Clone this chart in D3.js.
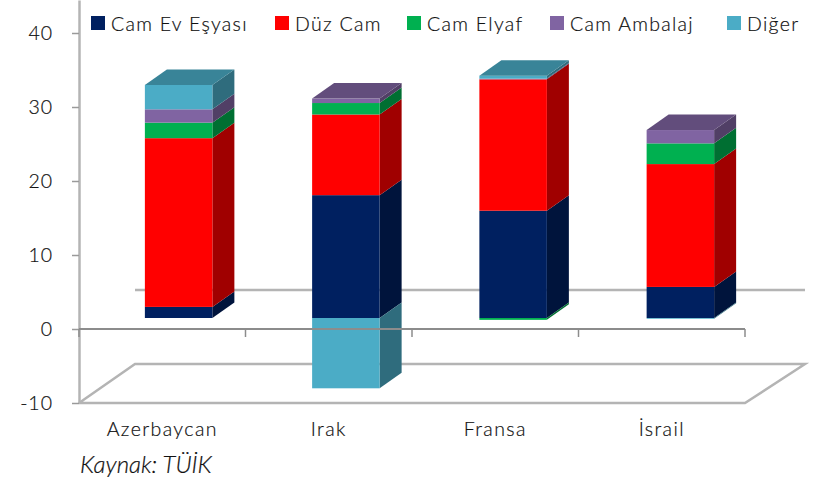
<!DOCTYPE html>
<html>
<head>
<meta charset="utf-8">
<script src="https://cdn.jsdelivr.net/npm/d3@7"></script>
<style>
  html, body { margin: 0; padding: 0; background: #fff; }
  text { font-family: Lato, "Open Sans", sans-serif; font-weight: 300; fill: #111; stroke: #111; stroke-width: 0.2px; }
</style>
</head>
<body>
<div id="vis"></div>
<script>
const countries = ["Azerbaycan", "Irak", "Fransa", "İsrail"];
const seriesNames = ["Cam Ev Eşyası", "Düz Cam", "Cam Elyaf", "Cam Ambalaj", "Diğer"];
const seriesColors = ["#002060", "#ff0000", "#00b050", "#8064a2", "#4bacc6"];
const camEvEsyasi = [1.5, 16.6, 14.5, 4.2];
const duzCam = [22.8, 10.9, 17.75, 16.6];
const camElyaf = [2.1, 1.55, -0.25, 2.8];
const camAmbalaj = [1.8, 0.6, 0.1, 1.8];
const diger = [3.3, -9.5, 0.4, -0.1];
const yTicks = [-10, 0, 10, 20, 30, 40];
const legendX = [91, 275, 407, 550, 727];

const width = 825, height = 477;
const seriesValues = [camEvEsyasi, duzCam, camElyaf, camAmbalaj, diger];
const rows = countries.map((c, i) => {
    const row = { country: c };
    seriesNames.forEach((s, j) => { row[s] = seriesValues[j][i]; });
    return row;
});

const x = d3.scaleBand().domain(countries).range([79, 745]);
// bars sit deeper in the 3D box, so their spacing is a bit wider than the axis ticks
const xBar = d3.scaleBand().domain(countries).range([95, 764]);
const y = d3.scaleLinear().domain([-10, 44.46]).range([403, 0]);

// 3D look: the walls sit behind the axis plane, bars stand half way in
const wallDx = 56, wallDy = -39;
const barOffY = -11;
const barW = 67.5, barDx = 22, barDy = -15.5;

const svg = d3.select("#vis").append("svg")
    .attr("width", width)
    .attr("height", height)
    .style("display", "block");

const gridColor = "#b4b4b4";

// back wall zero line and floor
svg.append("path")
    .attr("d", d3.line()([
        [x.range()[0] + wallDx, y(0) + wallDy],
        [x.range()[1] + wallDx + 4, y(0) + wallDy]
    ]))
    .attr("stroke", gridColor).attr("stroke-width", 2.5).attr("fill", "none");

svg.append("path")
    .attr("d", d3.line()([
        [x.range()[0], y(-10)],
        [x.range()[0] + wallDx, y(-10) + wallDy],
        [x.range()[1] + wallDx + 4, y(-10) + wallDy],
        [x.range()[1], y(-10)],
        [x.range()[0], y(-10)]
    ]))
    .attr("stroke", gridColor).attr("stroke-width", 2.5).attr("fill", "none");

// bars
const stacked = d3.stack()
    .keys(seriesNames)
    .offset(d3.stackOffsetDiverging)(rows);

const barX = name => xBar(name) + (xBar.bandwidth() - barW) / 2;
const barY = v => y(v) + barOffY;

const layers = svg.selectAll("g.layer")
    .data(stacked)
    .enter().append("g")
    .attr("class", "layer");

// sides first so the fronts overlap their edges
layers.selectAll("path.side")
    .data((s, j) => s.map(d => ({ d: d, color: seriesColors[j] })))
    .enter().append("path")
    .attr("class", "side")
    .attr("fill", e => d3.rgb(e.color).darker(1.3))
    .attr("d", e => {
        const x1 = barX(e.d.data.country) + barW;
        return d3.line()([
            [x1, barY(e.d[0])],
            [x1 + barDx, barY(e.d[0]) + barDy],
            [x1 + barDx, barY(e.d[1]) + barDy],
            [x1, barY(e.d[1])]
        ]) + "Z";
    });

layers.selectAll("rect.front")
    .data((s, j) => s.map(d => ({ d: d, color: seriesColors[j] })))
    .enter().append("rect")
    .attr("class", "front")
    .attr("fill", e => e.color)
    .attr("x", e => barX(e.d.data.country))
    .attr("width", barW)
    .attr("y", e => Math.min(barY(e.d[0]), barY(e.d[1])))
    .attr("height", e => Math.abs(barY(e.d[0]) - barY(e.d[1])));

// top cap takes the colour of the highest positive segment
const tops = rows.map(r => {
    let sum = 0, last = 0;
    seriesNames.forEach((s, j) => {
        if (r[s] > 0) { sum += r[s]; last = j; }
    });
    return { country: r.country, total: sum, color: seriesColors[last] };
});

svg.selectAll("path.top")
    .data(tops)
    .enter().append("path")
    .attr("class", "top")
    .attr("fill", d => d3.rgb(d.color).darker(0.75))
    .attr("d", d => {
        const x0 = barX(d.country);
        const yy = barY(d.total);
        return d3.line()([
            [x0, yy],
            [x0 + barW, yy],
            [x0 + barW + barDx, yy + barDy],
            [x0 + barDx, yy + barDy]
        ]) + "Z";
    });

// y axis
const yAxis = svg.append("g")
    .attr("transform", "translate(" + x.range()[0] + ",0)")
    .call(d3.axisLeft(y).tickValues(yTicks).tickSize(7).tickPadding(19).tickSizeOuter(0)
        .tickFormat(d => String(d)));
yAxis.select(".domain").attr("stroke", gridColor).attr("stroke-width", 2.5);
yAxis.selectAll(".tick line").attr("stroke", "#9a9a9a").attr("stroke-width", 1.5);
yAxis.selectAll(".tick text")
    .style("font-size", "19.5px")
    .style("letter-spacing", "1px")
    .attr("fill", null);

// zero line, with ticks between the categories
svg.append("line")
    .attr("x1", x.range()[0]).attr("x2", x.range()[1])
    .attr("y1", y(0)).attr("y2", y(0))
    .attr("stroke", "#8c8c8c").attr("stroke-width", 2);

svg.selectAll("line.catTick")
    .data(countries.map(c => x(c)).concat([x.range()[1]]))
    .enter().append("line")
    .attr("class", "catTick")
    .attr("x1", d => d).attr("x2", d => d)
    .attr("y1", y(0)).attr("y2", y(0) + 8)
    .attr("stroke", "#8c8c8c").attr("stroke-width", 1.5);

// category labels
const xAxis = svg.append("g")
    .attr("transform", "translate(0," + y(-10) + ")")
    .call(d3.axisBottom(x).tickSize(0).tickPadding(19));
xAxis.select(".domain").remove();
xAxis.selectAll(".tick text")
    .style("font-size", "19.5px")
    .style("letter-spacing", "1.4px")
    .attr("fill", null);

// legend
const legend = svg.selectAll("g.legend")
    .data(seriesNames)
    .enter().append("g")
    .attr("class", "legend")
    .attr("transform", (d, i) => "translate(" + legendX[i] + ",16)");

legend.append("rect")
    .attr("width", 14).attr("height", 14)
    .attr("fill", (d, i) => seriesColors[i]);

legend.append("text")
    .attr("x", 20).attr("y", 15)
    .style("font-size", "19.5px")
    .style("letter-spacing", "1.3px")
    .text(d => d);

svg.append("text")
    .attr("x", 80).attr("y", 473)
    .style("font-size", "24px")
    .style("font-style", "italic")
    .text("Kaynak: TÜİK");
</script>
</body>
</html>
